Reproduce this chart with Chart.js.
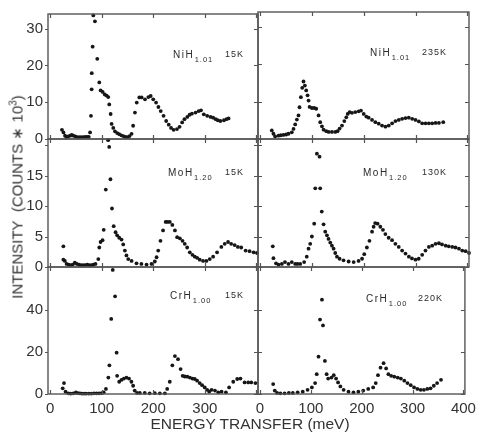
<!DOCTYPE html>
<html>
<head>
<meta charset="utf-8">
<script src="https://cdn.jsdelivr.net/npm/chart.js@4.4.1/dist/chart.umd.min.js"></script>
<style>
  body { margin: 0; background: #fff; }
  #wrap { position: relative; width: 482px; height: 432px; overflow: hidden; }
  #wrap canvas { position: absolute; left: 0; top: 0; }
  .axis-title { position: absolute; font-family: "Liberation Sans", Arial, sans-serif; font-size: 15px; color: #333; white-space: nowrap; }
  #ytitle { left: 17px; top: 197px; transform: translate(-50%, -50%) rotate(-90deg); }
  #xtitle { left: 250px; top: 424px; transform: translate(-50%, -50%); font-size: 15.5px; }
  #ytitle sup { font-size: 10px; }
</style>
</head>
<body>
<div id="wrap">
  <canvas id="p0" width="482" height="432"></canvas>
  <canvas id="p1" width="482" height="432"></canvas>
  <canvas id="p2" width="482" height="432"></canvas>
  <canvas id="p3" width="482" height="432"></canvas>
  <canvas id="p4" width="482" height="432"></canvas>
  <canvas id="p5" width="482" height="432"></canvas>
  <div class="axis-title" id="ytitle">INTENSITY&nbsp;&nbsp;(COUNTS &lowast; 10<sup>3</sup>)</div>
  <div class="axis-title" id="xtitle">ENERGY TRANSFER (meV)</div>
</div>
<script>
// energy transfer (meV) and intensity (counts * 10^3)
const niH15Energy = [23, 26, 29, 32, 35, 39, 42, 45, 49, 52, 56, 60, 64, 68, 72, 75, 77.5, 79.3, 80.6, 80.8, 82.5, 83.8, 87, 91.5, 95.4, 98, 102, 106, 109.6, 112.8, 114.7, 117.4, 119.3, 122.5, 125.7, 130, 134, 138, 142, 146, 150, 154, 158, 161, 164.5, 168, 173, 177.5, 184, 190.5, 195, 200, 205.5, 210, 214.5, 220, 225, 230, 234.5, 239.5, 246, 251, 256, 260.5, 266, 270.5, 275, 282, 288, 292.5, 298, 304.5, 311, 316, 321, 325, 330, 337, 342, 346];
const niH15Counts = [2.5, 1.8, 0.9, 0.5, 0.7, 0.9, 1.1, 0.9, 0.7, 0.5, 0.5, 0.5, 0.5, 0.6, 0.6, 0.6, 1.8, 6.3, 13.5, 17.9, 25.1, 33.6, 32.0, 21.8, 15.4, 13.2, 12.8, 12.1, 11.8, 11.4, 9.4, 6.8, 4.1, 3.0, 2.1, 1.6, 1.3, 1.0, 0.8, 0.6, 0.5, 0.8, 1.4, 3.6, 7.2, 9.9, 11.3, 11.3, 10.8, 11.4, 11.7, 10.8, 9.9, 8.7, 7.6, 6.3, 4.9, 3.9, 3.0, 2.5, 2.7, 3.3, 4.5, 5.4, 6.0, 6.6, 6.9, 7.2, 7.6, 7.8, 6.7, 6.3, 6.0, 5.8, 5.4, 5.1, 4.9, 5.1, 5.4, 5.6];

const niH235Energy = [22.6, 25.8, 29, 35.5, 40, 45.1, 50.3, 54.8, 61.2, 64.5, 67.7, 71, 74.1, 76.1, 78.7, 81.3, 83.8, 86.4, 89, 91.6, 93.5, 95.5, 100, 104.5, 108.3, 112.8, 116, 119.3, 122.5, 127.7, 132.2, 138.6, 145, 149.5, 153.4, 158, 162.5, 166.3, 169, 172.8, 177.3, 183.7, 190.2, 194.7, 199.9, 205, 209.5, 216, 222.4, 228.9, 235.3, 241.8, 248.2, 254.7, 261.1, 267.6, 274, 280.5, 286.9, 293.4, 299.8, 306.3, 312.7, 319.2, 325.6, 332, 338.5, 345, 353.3];
const niH235Counts = [2.3, 1.4, 0.7, 0.9, 1.0, 1.1, 1.2, 1.4, 1.8, 2.7, 3.9, 5.2, 6.3, 8.5, 11.2, 13.7, 15.4, 14.3, 13.0, 11.7, 10.3, 8.6, 8.3, 8.3, 8.1, 6.3, 4.5, 3.4, 2.5, 2.1, 1.9, 1.9, 1.9, 2.1, 2.8, 3.6, 4.8, 5.8, 6.7, 7.2, 7.0, 7.2, 7.4, 7.6, 6.7, 6.0, 5.7, 5.1, 4.5, 4.1, 3.6, 3.3, 3.6, 4.2, 4.8, 5.1, 5.4, 5.6, 5.7, 5.4, 5.1, 4.7, 4.2, 4.2, 4.2, 4.2, 4.3, 4.3, 4.5];

const moH15Energy = [25.8, 25.8, 28.7, 32, 36, 40, 44, 48, 52, 56, 60, 64, 68, 72, 76, 80, 84, 88, 93.5, 95.4, 97.9, 101.8, 104, 108, 112.6, 114.6, 117, 120, 123.3, 127, 130, 134, 138.5, 141.8, 145, 148, 151.5, 158, 167.5, 177, 187, 196.7, 203, 206.4, 209.6, 214, 219, 224, 227.6, 232, 237, 242, 246.3, 251.5, 256.7, 261, 265.7, 270.8, 275.9, 280.5, 285, 290, 296.5, 303, 309.5, 316, 323.7, 332, 338.5, 345, 351, 357.8, 364, 370.5, 379, 386.7, 394.5, 401];
const moH15Counts = [3.4, 1.2, 1.0, 0.5, 0.4, 0.3, 0.4, 0.7, 0.5, 0.4, 0.3, 0.3, 0.3, 0.4, 0.3, 0.3, 0.4, 0.5, 1.3, 3.2, 4.1, 4.4, 6.1, 12.7, 20.8, 19.7, 14.4, 9.6, 6.7, 5.7, 5.2, 4.8, 4.5, 3.7, 2.7, 1.9, 1.3, 1.0, 0.6, 0.5, 0.4, 0.5, 0.9, 1.6, 2.7, 4.3, 6.0, 7.4, 7.4, 7.4, 6.9, 6.0, 4.9, 4.7, 4.3, 3.8, 3.2, 2.4, 2.0, 1.7, 1.5, 1.2, 1.0, 1.0, 1.3, 1.7, 2.4, 3.3, 3.8, 4.1, 3.8, 3.6, 3.3, 3.2, 2.7, 2.6, 2.4, 2.3];

const moH130Energy = [24.5, 25.8, 30.7, 35.5, 42, 48, 54.8, 61.2, 67.7, 72, 77.4, 85, 90, 93.5, 96.7, 99.9, 104.4, 106.4, 109.6, 114.7, 116, 119, 122.5, 125.7, 129, 132, 135.4, 138.6, 141.8, 145, 148.3, 153.4, 161, 170.8, 180.5, 190, 196.7, 201, 206, 211, 216, 219, 222, 226.7, 232, 237, 241.7, 248, 254.6, 261, 267.5, 274, 280.5, 287, 293, 299.8, 306, 312.7, 319, 325.6, 332, 338.5, 345, 351, 358, 364, 370.7, 377, 383.6, 390, 396.5, 403];
const moH130Counts = [3.4, 1.45, 0.6, 0.4, 0.5, 0.8, 0.5, 0.8, 0.5, 0.5, 0.5, 0.8, 1.7, 3.0, 3.8, 5.0, 7.1, 12.9, 18.6, 18.1, 12.9, 9.1, 7.0, 5.8, 5.2, 4.6, 4.0, 3.5, 3.0, 2.3, 1.7, 1.35, 1.1, 0.9, 0.8, 1.0, 1.35, 2.1, 3.2, 4.3, 5.8, 6.6, 7.2, 7.1, 6.6, 6.1, 5.4, 4.8, 4.4, 3.8, 3.3, 2.7, 2.2, 1.7, 1.4, 1.2, 1.35, 2.0, 2.7, 3.3, 3.5, 3.8, 3.9, 3.7, 3.5, 3.4, 3.3, 3.2, 3.0, 2.7, 2.6, 2.3];

const crH15Energy = [24.5, 27, 30, 35.5, 40, 45, 50, 54, 58, 62, 66, 70, 75, 80, 85, 90, 95, 100, 104, 108.3, 113, 115, 118.5, 121.5, 126, 129, 130, 134, 138.5, 143, 148, 153, 157.7, 161, 164, 168.6, 174, 183.5, 193, 203, 212.8, 222.5, 227, 232, 237, 242, 248, 253, 257, 261, 266, 271, 276, 280.5, 285, 290, 294.7, 299.8, 304.5, 308.4, 313, 319.6, 326, 332.4, 340.8, 347, 355, 362.7, 369, 377, 384, 390, 398];
const crH15Counts = [2.7, 5.2, 1.1, 0.3, 0.2, 0.3, 0.7, 0.4, 0.3, 0.2, 0.2, 0.2, 0.2, 0.2, 0.3, 0.3, 0.3, 0.4, 0.8, 2.4, 7.8, 13.6, 35.6, 58.8, 46.3, 19.6, 8.6, 5.8, 6.7, 7.3, 7.8, 7.3, 5.8, 3.9, 1.6, 0.5, 0.5, 0.5, 0.3, 0.4, 0.3, 0.3, 2.4, 5.8, 13.6, 18.0, 16.5, 11.8, 8.6, 8.3, 8.2, 7.8, 7.3, 7.1, 6.3, 5.2, 4.2, 3.1, 2.0, 1.1, 2.0, 1.6, 0.8, 1.1, 0.8, 3.1, 5.8, 7.1, 7.3, 5.5, 5.5, 5.5, 5.2];

const crH220Energy = [25.8, 29, 33.5, 40, 48.4, 56.7, 64.5, 74, 84, 93.5, 102, 108.3, 111.5, 115, 118, 121.8, 123.8, 127.6, 131, 134, 140.5, 145, 149.6, 153.5, 158, 164.4, 174, 183.8, 193.4, 203, 212.8, 222.5, 227.6, 232, 237, 243, 248, 252.5, 257.9, 264, 270.8, 277, 283.7, 290, 296.5, 303, 309.5, 316, 322.4, 329, 335.4, 341.8, 348.3, 356];
const crH220Counts = [4.7, 1.6, 0.5, 0.3, 0.3, 0.5, 0.5, 0.8, 1.1, 2.0, 3.1, 5.2, 9.4, 17.7, 35.3, 44.7, 32.5, 15.7, 9.4, 7.3, 7.8, 8.9, 7.3, 5.5, 3.6, 2.0, 1.1, 0.8, 1.1, 1.6, 2.4, 3.1, 5.2, 8.9, 12.5, 14.6, 12.1, 9.4, 8.6, 8.2, 7.8, 7.3, 6.3, 5.2, 4.2, 3.1, 2.4, 2.0, 2.0, 2.4, 2.7, 3.9, 5.2, 6.7];

// shared axes
const energyTicks = [0, 100, 200, 300, 400];
const rowMax = [34, 21, 60.2];
const rowTicks = [[0, 10, 20, 30], [0, 5, 10, 15, 20], [0, 20, 40, 60]];
const rowHiddenLabel = [null, 20, 60];

// panel captions
const panelFormula = ['NiH', 'NiH', 'MoH', 'MoH', 'CrH', 'CrH'];
const panelSub = ['1.01', '1.01', '1.20', '1.20', '1.00', '1.00'];
const panelTemp = ['15K', '235K', '15K', '130K', '15K', '220K'];

// plot boxes on the page
const colLeft = [48, 258];
const colRight = [258, 469];
const rowTop = [12, 139, 267];
const rowBottom = [139, 267, 394];
const captionPos = [
  {x: 125, y: 44}, {x: 112, y: 44},
  {x: 120, y: 37}, {x: 105, y: 37},
  {x: 122, y: 32}, {x: 108, y: 35}
];

const FONT = '"Liberation Sans", Arial, sans-serif';

const frameTicks = {
  id: 'frameTicks',
  afterDraw(chart, args, opts) {
    const {ctx, chartArea: a, scales} = chart;
    ctx.save();
    ctx.strokeStyle = '#555';
    ctx.lineWidth = 1.4;
    ctx.strokeRect(a.left, a.top, a.width, a.height);
    ctx.lineWidth = 1.2;
    ctx.beginPath();
    scales.x.ticks.forEach(t => {
      const px = Math.round(scales.x.getPixelForValue(t.value)) + 0.5;
      ctx.moveTo(px, a.top); ctx.lineTo(px, a.top + 4);
      ctx.moveTo(px, a.bottom); ctx.lineTo(px, a.bottom - 4);
    });
    scales.y.ticks.forEach(t => {
      const py = Math.round(scales.y.getPixelForValue(t.value)) + 0.5;
      if (opts.outerLeft) {
        ctx.moveTo(a.left, py); ctx.lineTo(a.left - 3, py);
      } else {
        ctx.moveTo(a.left, py); ctx.lineTo(a.left + 4, py);
      }
      ctx.moveTo(a.right, py); ctx.lineTo(a.right - 4, py);
    });
    ctx.stroke();

    // caption, e.g. NiH(1.01)  15K
    const p = opts.caption;
    ctx.fillStyle = '#2a2a2a';
    ctx.textBaseline = 'alphabetic';
    ctx.letterSpacing = '1.5px';
    ctx.font = '10px ' + FONT;
    const x0 = a.left + p.x, y0 = a.top + p.y;
    ctx.fillText(p.formula, x0, y0);
    const w = ctx.measureText(p.formula).width;
    ctx.letterSpacing = '1px';
    ctx.font = '7.5px ' + FONT;
    ctx.fillText(p.sub, x0 + w + 0.5, y0 + 3.5);
    ctx.font = '9px ' + FONT;
    ctx.textAlign = 'right';
    ctx.fillText(p.temp, a.right - (opts.col === 0 ? 14 : 22), y0 - 1);
    ctx.restore();
  }
};

function makePanel(idx, energy, counts) {
  const row = Math.floor(idx / 2);
  const col = idx % 2;
  const isBottom = row === 2;
  const isLeft = col === 0;
  const yAxisWidth = 40;
  const xAxisHeight = 20;

  new Chart(document.getElementById('p' + idx), {
    type: 'scatter',
    data: {
      datasets: [{
        data: energy.map((e, i) => ({x: e, y: counts[i]})),
        backgroundColor: '#161616',
        borderWidth: 0,
        pointRadius: 1.9,
        pointHoverRadius: 1.9,
        clip: false
      }]
    },
    options: {
      responsive: false,
      animation: false,
      events: [],
      layout: {
        padding: {
          left: isLeft ? colLeft[0] - yAxisWidth : colLeft[1],
          right: 482 - colRight[col],
          top: rowTop[row],
          bottom: isBottom ? 432 - rowBottom[row] - xAxisHeight : 432 - rowBottom[row]
        }
      },
      plugins: {
        legend: {display: false},
        tooltip: {enabled: false},
        frameTicks: {
          outerLeft: isLeft,
          col: col,
          caption: {
            formula: panelFormula[idx], sub: panelSub[idx], temp: panelTemp[idx],
            x: captionPos[idx].x, y: captionPos[idx].y
          }
        }
      },
      scales: {
        x: {
          type: 'linear',
          min: -4,
          max: 403,
          border: {display: false},
          grid: {display: false, drawTicks: false},
          afterBuildTicks: s => { s.ticks = energyTicks.map(v => ({value: v})); },
          afterFit: s => { s.height = isBottom ? xAxisHeight : 0; },
          ticks: {
            display: isBottom,
            autoSkip: false,
            maxRotation: 0,
            padding: 6,
            color: '#333',
            font: {family: FONT, size: 15},
            callback: v => (isLeft && v === 400) ? '' : String(v)
          }
        },
        y: {
          type: 'linear',
          min: 0,
          max: rowMax[row],
          border: {display: false},
          grid: {display: false, drawTicks: false},
          afterBuildTicks: s => { s.ticks = rowTicks[row].map(v => ({value: v})); },
          afterFit: s => { s.width = isLeft ? yAxisWidth : 0; },
          ticks: {
            display: isLeft,
            autoSkip: false,
            padding: 5,
            color: '#333',
            font: {family: FONT, size: 15},
            callback: v => v === rowHiddenLabel[row] ? '' : String(v)
          }
        }
      }
    },
    plugins: [frameTicks]
  });
}

makePanel(0, niH15Energy, niH15Counts);
makePanel(1, niH235Energy, niH235Counts);
makePanel(2, moH15Energy, moH15Counts);
makePanel(3, moH130Energy, moH130Counts);
makePanel(4, crH15Energy, crH15Counts);
makePanel(5, crH220Energy, crH220Counts);
</script>
</body>
</html>
